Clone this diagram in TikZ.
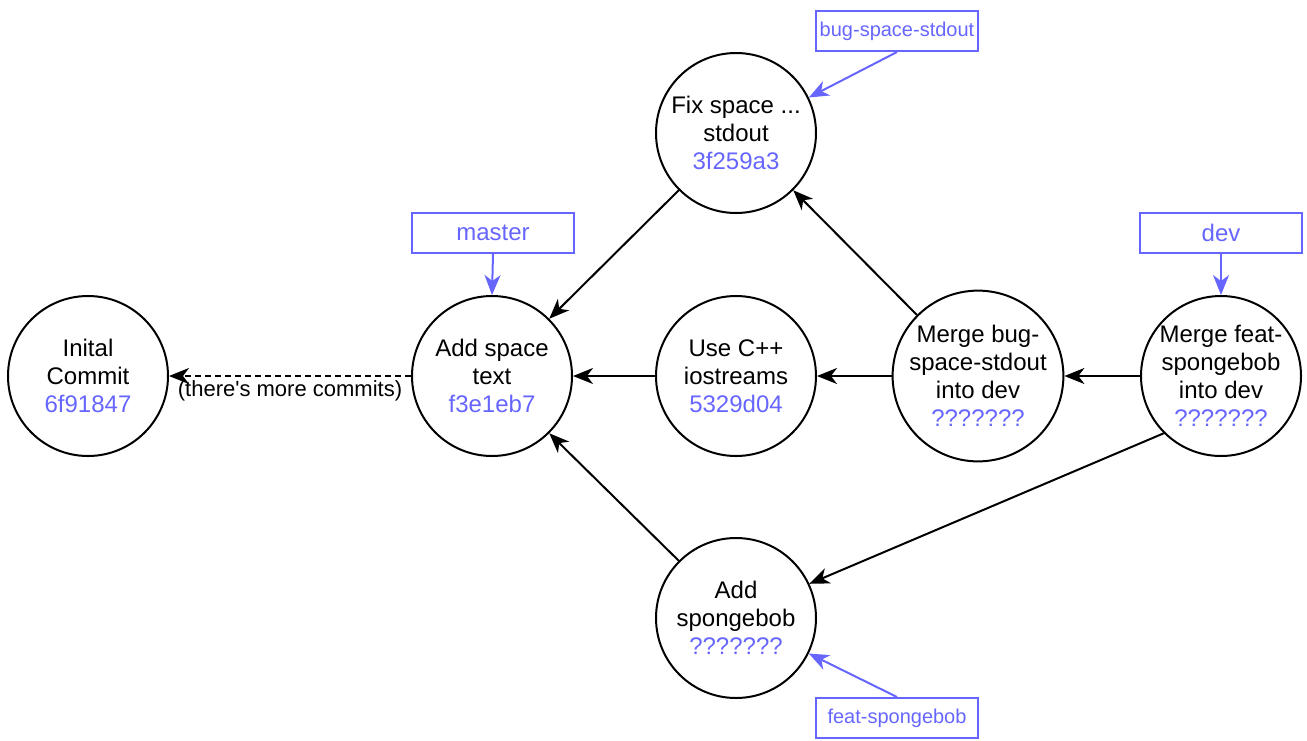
\documentclass[tikz,border=0pt]{standalone}
\usepackage{fontspec}
\setmainfont{Liberation Sans}
\newfontfamily\plainfont{Liberation Sans}
\usetikzlibrary{arrows.meta}
\definecolor{ublue}{HTML}{6666FF}
\begin{document}
\begin{tikzpicture}[x=1pt,y=-1pt,
  commit/.style={circle,draw=black,line width=2pt,minimum size=160pt,inner sep=0pt,align=center,font=\fontsize{24}{28}\selectfont},
  refbox/.style={rectangle,draw=ublue,line width=2pt,minimum width=162pt,minimum height=40pt,inner sep=0pt,text=ublue},
  edge/.style={line width=2pt,-{Stealth[length=20pt,width=16pt,inset=6pt]}},
  refedge/.style={draw=ublue,line width=2pt,-{Stealth[length=20pt,width=16pt,inset=6pt]}}]
\useasboundingbox (0,0) rectangle (1307,740);
\newcommand{\hsh}[1]{\textcolor{ublue}{#1}}
\node[commit] (init) at (88,376) {Inital\\Commit\\\hsh{6f91847}};
\node[commit] (space) at (492,376) {Add space\\text\\\hsh{f3e1eb7}};
\node[commit] (cpp) at (736,376) {Use C++\\iostreams\\\hsh{5329d04}};
\node[commit] (fix) at (736,133) {Fix space ...\\stdout\\\hsh{3f259a3}};
\node[commit] (mbug) at (978,376) {Merge bug-\\space-stdout\\into dev\\\hsh{???????}};
\node[commit] (mfeat) at (1221,376) {Merge feat-\\spongebob\\into dev\\\hsh{???????}};
\node[commit] (sponge) at (736,618) {Add\\spongebob\\\hsh{???????}};

\node[refbox,font=\fontsize{20}{24}\selectfont] (lbug) at (897,31) {bug-space-stdout};
\node[refbox,font=\fontsize{24}{28}\selectfont] (lmaster) at (493,233) {master};
\node[refbox,font=\fontsize{24}{28}\selectfont] (ldev) at (1221,233) {dev};
\node[refbox,font=\fontsize{20}{24}\selectfont] (lfeat) at (897,718) {feat-spongebob};

\draw[edge,dashed,dash pattern=on 6pt off 4pt] (space.west) -- (init.east);
\node[font=\plainfont\fontsize{22}{26}\selectfont] (more) at (290,391) {(there's more commits)};
\draw[edge] (cpp.west) -- (space.east);
\draw[edge] (mbug.west) -- (cpp.east);
\draw[edge] (mfeat.west) -- (mbug.east);
\draw[edge] (fix.south west) -- (space.north east);
\draw[edge] (mbug.north west) -- (fix.south east);
\draw[edge] (sponge.north west) -- (space.south east);
\draw[edge] (mfeat.south west) -- (sponge.25);

\draw[refedge] (lbug.south) -- (fix.26);
\draw[refedge] (lmaster.south) -- (space.north);
\draw[refedge] (ldev.south) -- (mfeat.north);
\draw[refedge] (lfeat.north) -- (sponge.-26);
\end{tikzpicture}
\end{document}
